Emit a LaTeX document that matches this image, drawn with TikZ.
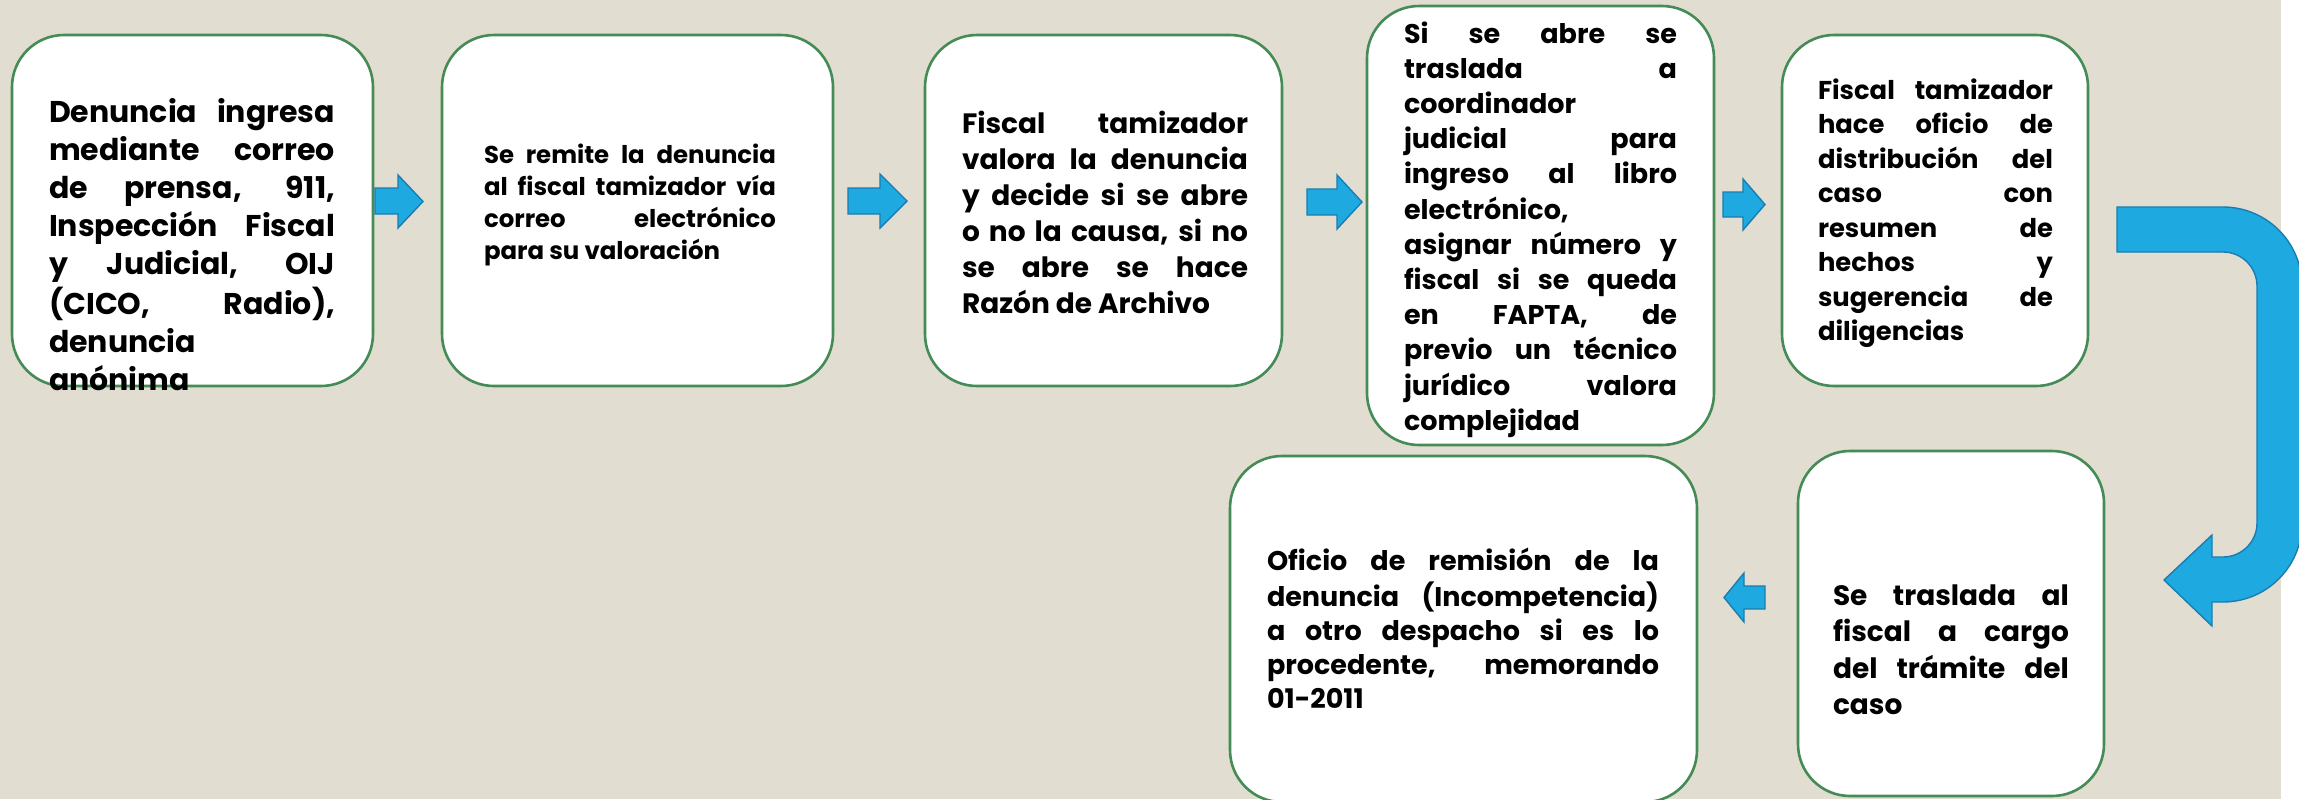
\documentclass[tikz,border=0pt]{standalone}
\usepackage{fontspec}
\setmainfont{Poppins}
\definecolor{bgc}{HTML}{E2DDD1}
\definecolor{boxgreen}{HTML}{458B55}
\definecolor{arrfill}{HTML}{1EAAE0}
\definecolor{arrline}{HTML}{1A7DB0}
\newcommand\jline[1]{\hbox to \hsize{\strut#1}}
\newcommand\rline[1]{\hbox to \hsize{\strut#1\hfil}}
\newcommand\tblock[2]{\vbox{\hsize=#1\relax #2}}
\hbadness=10000
\hfuzz=20pt
\begin{document}
\begin{tikzpicture}[x=0.5pt,y=-0.5pt,
  box/.style={draw=boxgreen, line width=1.3pt, fill=white, rounded corners=26pt, inner sep=0pt},
  txt/.style={inner sep=0pt, outer sep=0pt, anchor=north west, text=black},
  barrow/.style={fill=arrfill, draw=arrline, line width=0.7pt, line join=miter}]
\useasboundingbox (0,0) rectangle (2299,799);
\fill[white] (0,0) rectangle (2299,799);
\fill[bgc] (0,0) rectangle (2281,799);

% boxes
\node[box, minimum width=180.5pt, minimum height=175.5pt] (b1) at (192.5,210.5) {};
\node[box, minimum width=195.5pt, minimum height=175.5pt] (b2) at (637.5,210.5) {};
\node[box, minimum width=178.5pt, minimum height=175.5pt] (b3) at (1103.5,210.5) {};
\node[box, minimum width=173.5pt, minimum height=219.5pt] (b4) at (1540.5,225.5) {};
\node[box, minimum width=153pt, minimum height=175.5pt] (b5) at (1935,210.5) {};
\node[box, minimum width=153pt, minimum height=172.5pt] (b6) at (1951,623.5) {};
\node[box, minimum width=233.5pt, minimum height=173pt] (b7) at (1463.5,629) {};

% texts
\node[txt, font=\fontsize{15}{19}\selectfont\bfseries] (t1) at (49,95.4)
 {\tblock{143pt}{\jline{Denuncia ingresa}\jline{mediante correo}\jline{de prensa, 911,}\jline{Inspección Fiscal}\jline{y Judicial, OIJ}\jline{(CICO, Radio),}\rline{denuncia}\rline{anónima}}};
\node[txt, font=\fontsize{12.2}{16.15}\selectfont\bfseries] (t2) at (484,140.4)
 {\tblock{146pt}{\jline{Se remite la denuncia}\jline{al fiscal tamizador vía}\jline{correo electrónico}\rline{para su valoración}}};
\node[txt, font=\fontsize{14}{18}\selectfont\bfseries] (t3) at (962,107.8)
 {\tblock{143pt}{\jline{Fiscal tamizador}\jline{valora la denuncia}\jline{y decide si se abre}\jline{o no la causa, si no}\jline{se abre se hace}\rline{Razón de Archivo}}};
\node[txt, font=\fontsize{13.5}{17.6}\selectfont\bfseries] (t4) at (1404,18.4)
 {\tblock{136.5pt}{\jline{Si se abre se}\jline{traslada a}\rline{coordinador}\jline{judicial para}\jline{ingreso al libro}\rline{electrónico,}\jline{asignar número y}\jline{fiscal si se queda}\jline{en FAPTA, de}\jline{previo un técnico}\jline{jurídico valora}\rline{complejidad}}};
\node[txt, font=\fontsize{12.9}{17.25}\selectfont\bfseries] (t5) at (1818,74.85)
 {\tblock{117.5pt}{\jline{Fiscal tamizador}\jline{hace oficio de}\jline{distribución del}\jline{caso con}\jline{resumen de}\jline{hechos y}\jline{sugerencia de}\rline{diligencias}}};
\node[txt, font=\fontsize{14}{18.25}\selectfont\bfseries] (t6) at (1833,579.45)
 {\tblock{118pt}{\jline{Se traslada al}\jline{fiscal a cargo}\jline{del trámite del}\rline{caso}}};
\node[txt, font=\fontsize{13.5}{17}\selectfont\bfseries] (t7) at (1267,546.2)
 {\tblock{196pt}{\jline{Oficio de remisión de la}\jline{denuncia (Incompetencia)}\jline{a otro despacho si es lo}\jline{procedente, memorando}\rline{01-2011}}};

% block arrows
\draw[barrow] (375,188) -- (398,188) -- (398,175) -- (423,201.5) -- (398,228) -- (398,214) -- (375,214) -- cycle;
\draw[barrow] (848,188) -- (880,188) -- (880,174) -- (907,201) -- (880,228) -- (880,214) -- (848,214) -- cycle;
\draw[barrow] (1307,189) -- (1337,189) -- (1337,175) -- (1362,202) -- (1337,229) -- (1337,215) -- (1307,215) -- cycle;
\draw[barrow] (1723,192) -- (1743,192) -- (1743,179) -- (1765,204.5) -- (1743,230) -- (1743,217) -- (1723,217) -- cycle;
\draw[barrow] (1765,586) -- (1744,586) -- (1744,573) -- (1724,597.5) -- (1744,622) -- (1744,609) -- (1765,609) -- cycle;

% U-turn arrow
\draw[barrow] (2117,207) -- (2223,207) arc[start angle=-90, end angle=0, radius=79]
  -- (2302,523) arc[start angle=0, end angle=90, radius=79]
  -- (2212,602) -- (2212,626) -- (2164,580) -- (2212,535) -- (2212,557) -- (2223,557)
  arc[start angle=90, end angle=0, radius=34]
  -- (2257,286) arc[start angle=0, end angle=-90, radius=34]
  -- (2117,252) -- cycle;
\end{tikzpicture}
\end{document}
